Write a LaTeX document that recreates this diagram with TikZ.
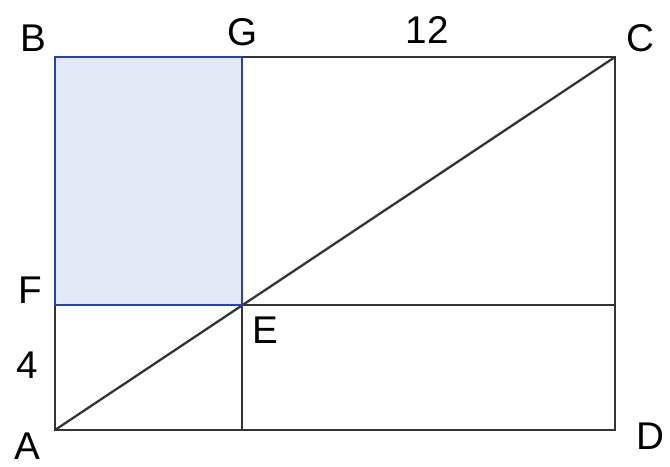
\documentclass[tikz,border=0pt]{standalone}
\usepackage{fontspec}
\setmainfont{Liberation Sans}
\usetikzlibrary{positioning, calc}

\begin{document}
\begin{tikzpicture}[
  font=\fontsize{22}{26}\selectfont,
  edge/.style={draw=black!80, line width=1.3pt},
  lbl/.style={inner sep=0pt},
]
\definecolor{sqblue}{HTML}{2344B0}
\definecolor{sqfill}{HTML}{E3E9F7}
\useasboundingbox (0,0) rectangle (13.4,9.32);

% ---------------- corner points ----------------
\coordinate (A) at (1.10,0.72);
\coordinate (B) at (1.10,8.18);
\coordinate (C) at (12.30,8.18);
\coordinate (D) at (12.30,0.72);
\coordinate (F) at (1.10,3.22);
\coordinate (G) at (4.84,8.18);
\coordinate (E) at (4.84,3.22);
\coordinate (Ebot) at (4.84,0.72);
\coordinate (Fright) at (12.30,3.22);

% =====================================================================
% shaded square B-G-E-F
% =====================================================================
\fill[sqfill] (B) rectangle (E);

% =====================================================================
% outer rectangle, cross lines, diagonal
% =====================================================================
\draw[edge] (G) -- (C) -- (D) -- (A) -- (F);
\draw[edge] (E) -- (Fright);
\draw[edge] (E) -- (Ebot);
\draw[edge] (A) -- (C);

\draw[sqblue, line width=1.3pt] (B) rectangle (E);

% ---------------- labels ----------------
\node[lbl] (lB) at (0.66,8.56) {B};
\node[lbl] (lG) at (4.86,8.68) {G};
\node[lbl] (lC) at (12.80,8.56) {C};
\node[lbl] (lF) at (0.60,3.52) {F};
\node[lbl] (lE) at (5.30,2.72) {E};
\node[lbl] (lA) at (0.54,0.40) {A};
\node[lbl] (lD) at (13.00,0.60) {D};
\node[lbl] (l12) at (8.54,8.72) {12};
\node[lbl] (l4) at (0.54,2.02) {4};

\end{tikzpicture}
\end{document}
